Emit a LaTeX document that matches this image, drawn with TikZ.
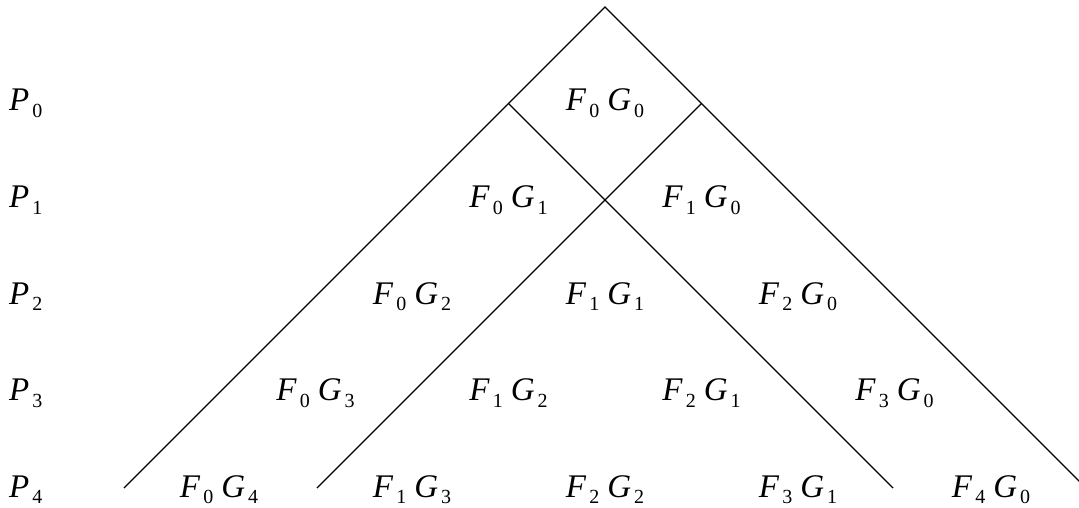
\documentclass[tikz,border=0pt]{standalone}
\usepackage{fontspec}
\setmainfont{Liberation Serif}
\newcommand{\ssub}[1]{\kern3pt\raisebox{-6.5pt}{\fontsize{20}{20}\selectfont #1}}
\newcommand{\fg}[2]{\textit{F}\ssub{#1}\kern8pt\textit{G}\ssub{#2}}
\newcommand{\pl}[1]{\textit{P}\ssub{#1}}
\begin{document}
\begin{tikzpicture}[x=1pt,y=-1pt,
  edge/.style={line width=1.4pt,black},
  term/.style={anchor=base,inner sep=0pt,font=\fontsize{33}{33}\selectfont},
  rowlab/.style={anchor=base west,inner sep=0pt,font=\fontsize{33}{33}\selectfont}]
\clip (0,0) rectangle (1079,508);
% vertices
\coordinate (A) at (605,7);
\coordinate (L) at (508.5,103.5);
\coordinate (R) at (701.5,103.5);
\coordinate (C) at (605,200);
\coordinate (LO) at (124,488);
\coordinate (RO) at (1086,488);
\coordinate (LI) at (317,488);
\coordinate (RI) at (893,488);
\draw[edge] (LO) -- (L) -- (A) -- (R) -- (RO);
\draw[edge] (L) -- (C) -- (RI);
\draw[edge] (R) -- (C) -- (LI);
% row labels
\foreach \k in {0,...,4} {
  \node[rowlab] (P\k) at (9,111+96.5*\k) {\pl{\k}};
}
% terms
\foreach \k in {0,...,4} {
  \foreach \i in {0,...,\k} {
    \pgfmathtruncatemacro{\j}{\k-\i}
    \node[term] (T\i\j) at ({605+(2*\i-\k)*96.5},{111+96.5*\k}) {\fg{\i}{\j}};
  }
}
\end{tikzpicture}
\end{document}
